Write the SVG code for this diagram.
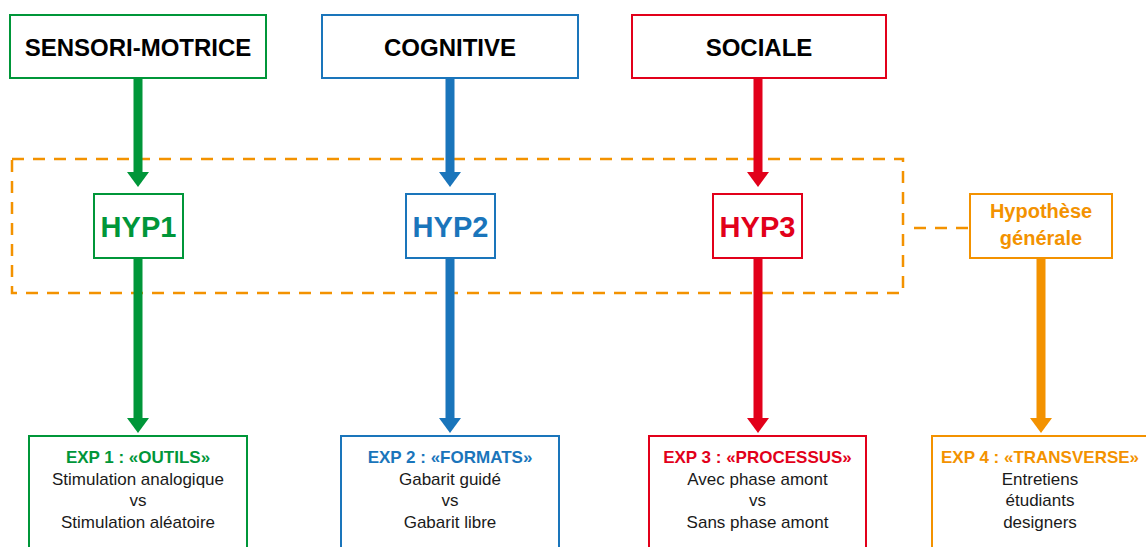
<svg xmlns="http://www.w3.org/2000/svg" width="1146" height="547" viewBox="0 0 1146 547">
<style>
.box{fill:#fff;stroke-width:2}
.g{stroke:#009639}.b{stroke:#1a75bb}.r{stroke:#e2001a}.o{stroke:#f39200}
.gt{fill:#009639}.bt{fill:#1a75bb}.rt{fill:#e2001a}.ot{fill:#f39200}
.top{font-family:"Liberation Sans",Arial,sans-serif;font-weight:bold;font-size:24px;fill:#000;text-anchor:middle}
.hyp{font-family:"Liberation Sans",Arial,sans-serif;font-weight:bold;font-size:29px;text-anchor:middle}
.hg{font-family:"Liberation Sans",Arial,sans-serif;font-weight:bold;font-size:20px;text-anchor:middle}
.et{font-family:"Liberation Sans",Arial,sans-serif;font-weight:bold;font-size:17px;text-anchor:middle}
.eb{font-family:"Liberation Sans",Arial,sans-serif;font-size:17px;fill:#1a1a1a;text-anchor:middle}
.shaft{stroke-width:9;fill:none}
.dash{fill:none;stroke:#f39200;stroke-width:2.5;stroke-dasharray:12 9}
</style>
<defs>
<marker id="ag" viewBox="0 0 15 22" refX="1" refY="11" markerWidth="15" markerHeight="22" markerUnits="userSpaceOnUse" orient="auto"><path d="M0,0 L15,11 L0,22 z" fill="#009639"/></marker>
<marker id="ab" viewBox="0 0 15 22" refX="1" refY="11" markerWidth="15" markerHeight="22" markerUnits="userSpaceOnUse" orient="auto"><path d="M0,0 L15,11 L0,22 z" fill="#1a75bb"/></marker>
<marker id="ar" viewBox="0 0 15 22" refX="1" refY="11" markerWidth="15" markerHeight="22" markerUnits="userSpaceOnUse" orient="auto"><path d="M0,0 L15,11 L0,22 z" fill="#e2001a"/></marker>
<marker id="ao" viewBox="0 0 15 22" refX="1" refY="11" markerWidth="15" markerHeight="22" markerUnits="userSpaceOnUse" orient="auto"><path d="M0,0 L15,11 L0,22 z" fill="#f39200"/></marker>
</defs>

<g id="hypothesis-frame">
<rect class="dash" x="12" y="159" width="891" height="134"/>
</g>

<g id="connectors">
<line class="shaft g" x1="138" y1="79" x2="138" y2="173" marker-end="url(#ag)"/>
<line class="shaft b" x1="450" y1="79" x2="450" y2="173" marker-end="url(#ab)"/>
<line class="shaft r" x1="758" y1="79" x2="758" y2="173" marker-end="url(#ar)"/>
<line class="shaft g" x1="138" y1="258" x2="138" y2="419" marker-end="url(#ag)"/>
<line class="shaft b" x1="450" y1="258" x2="450" y2="419" marker-end="url(#ab)"/>
<line class="shaft r" x1="758" y1="258" x2="758" y2="419" marker-end="url(#ar)"/>
<line class="shaft o" x1="1041" y1="258" x2="1041" y2="419" marker-end="url(#ao)"/>
<line class="dash" x1="914" y1="228" x2="970" y2="228"/>
</g>

<g id="sensori-motrice">
<rect class="box g" x="10" y="15" width="256" height="63"/>
<text class="top" x="138" y="56">SENSORI-MOTRICE</text>
</g>
<g id="cognitive">
<rect class="box b" x="322" y="15" width="256" height="63"/>
<text class="top" x="450" y="56">COGNITIVE</text>
</g>
<g id="sociale">
<rect class="box r" x="632" y="15" width="254" height="63"/>
<text class="top" x="759" y="56">SOCIALE</text>
</g>

<g id="hyp1">
<rect class="box g" x="94" y="194" width="89" height="64"/>
<text class="hyp gt" x="138.5" y="237">HYP1</text>
</g>
<g id="hyp2">
<rect class="box b" x="406" y="194" width="89" height="64"/>
<text class="hyp bt" x="450.5" y="237">HYP2</text>
</g>
<g id="hyp3">
<rect class="box r" x="713" y="194" width="89" height="64"/>
<text class="hyp rt" x="757.5" y="237">HYP3</text>
</g>
<g id="hypothese-generale">
<rect class="box o" x="970" y="194" width="142" height="64"/>
<text class="hg ot" x="1041" y="218">Hypothèse</text>
<text class="hg ot" x="1041" y="245">générale</text>
</g>

<g id="exp1">
<rect class="box g" x="29" y="436" width="218" height="130"/>
<text class="et gt" x="138" y="463">EXP 1 : «OUTILS»</text>
<text class="eb" x="138" y="485">Stimulation analogique</text>
<text class="eb" x="138" y="506">vs</text>
<text class="eb" x="138" y="528">Stimulation aléatoire</text>
</g>
<g id="exp2">
<rect class="box b" x="341" y="436" width="218" height="130"/>
<text class="et bt" x="450" y="463">EXP 2 : «FORMATS»</text>
<text class="eb" x="450" y="485">Gabarit guidé</text>
<text class="eb" x="450" y="506">vs</text>
<text class="eb" x="450" y="528">Gabarit libre</text>
</g>
<g id="exp3">
<rect class="box r" x="649" y="436" width="217" height="130"/>
<text class="et rt" x="757.5" y="463">EXP 3 : «PROCESSUS»</text>
<text class="eb" x="757.5" y="485">Avec phase amont</text>
<text class="eb" x="757.5" y="506">vs</text>
<text class="eb" x="757.5" y="528">Sans phase amont</text>
</g>
<g id="exp4">
<rect class="box o" x="932" y="436" width="218" height="130"/>
<text class="et ot" x="1040" y="463">EXP 4 : «TRANSVERSE»</text>
<text class="eb" x="1040" y="485">Entretiens</text>
<text class="eb" x="1040" y="506">étudiants</text>
<text class="eb" x="1040" y="528">designers</text>
</g>
</svg>
